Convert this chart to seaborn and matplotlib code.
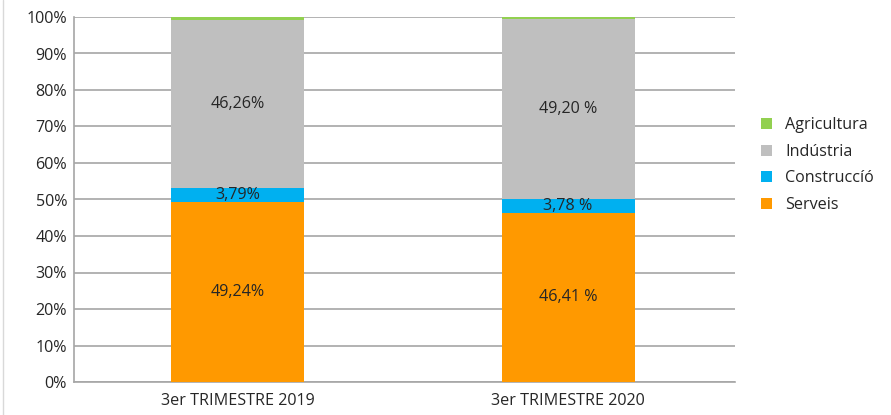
import matplotlib
matplotlib.use("Agg")
import matplotlib.pyplot as plt
import seaborn as sns
import numpy as np
import pandas as pd
from matplotlib.patches import Patch
from matplotlib.lines import Line2D

categories = ["3er TRIMESTRE 2019", "3er TRIMESTRE 2020"]
serveis = [49.24, 46.41]
construccio = [3.79, 3.78]
industria = [46.26, 49.20]
agricultura = [0.71, 0.61]
labels_serveis = ["49,24%", "46,41 %"]
labels_construccio = ["3,79%", "3,78 %"]
labels_industria = ["46,26%", "49,20 %"]
yticks = [0, 10, 20, 30, 40, 50, 60, 70, 80, 90, 100]

series = ["Serveis", "Construcció", "Indústria", "Agricultura"]
legend_labels = ["Agricultura", "Indústria", "Construccíó", "Serveis"]
colors = {"Serveis": "#FF9900", "Construcció": "#00B0F0",
          "Indústria": "#BFBFBF", "Agricultura": "#92D050"}

sns.set_theme(style="white")
plt.rcParams['font.family'] = ['Open Sans', 'DejaVu Sans']
txt = "#262626"
fs = 11.6

vals = np.array([serveis, construccio, industria, agricultura])
cum = np.cumsum(vals, axis=0)

fig = plt.figure(figsize=(8.91, 4.15), dpi=100)
ax = fig.add_axes([74/891, 1 - 382/415, (735-74)/891, (382-17)/415])

for i in range(len(series) - 1, -1, -1):
    df = pd.DataFrame({"cat": categories, "val": cum[i]})
    sns.barplot(data=df, x="cat", y="val", color=colors[series[i]],
                width=0.403, saturation=1, ax=ax, zorder=3, linewidth=0)

ax.set_ylim(0, 100)
ax.set_xlim(-0.495, 1.505)
ax.set_yticks(yticks)
ax.set_yticklabels([f"{t}%" for t in yticks], fontsize=fs, color=txt)
ax.tick_params(axis="x", labelsize=fs, labelcolor=txt, length=0, pad=8)
ax.tick_params(axis="y", length=0, pad=5)
ax.set_xlabel("")
ax.set_ylabel("")
ax.grid(axis="y", color="#A6A6A6", linewidth=1.2, zorder=0)
ax.set_axisbelow(True)
for s in ["top", "right"]:
    ax.spines[s].set_visible(False)
ax.spines["left"].set_color("#A6A6A6")
ax.spines["bottom"].set_color("#A6A6A6")
ax.spines["left"].set_linewidth(1.2)
ax.spines["bottom"].set_linewidth(1.2)

for j in range(len(categories)):
    ax.text(j, serveis[j] / 2, labels_serveis[j], ha="center", va="center",
            fontsize=fs, color=txt, zorder=5)
    ax.text(j, serveis[j] + construccio[j] / 2, labels_construccio[j], ha="center",
            va="center", fontsize=fs, color=txt, zorder=5)
    ax.text(j, cum[1][j] + industria[j] / 2, labels_industria[j], ha="center",
            va="center", fontsize=fs, color=txt, zorder=5)

handles = [Patch(facecolor=colors[s], edgecolor="none") for s in
           ["Agricultura", "Indústria", "Construcció", "Serveis"]]
fig.legend(handles, legend_labels, loc="center left",
           bbox_to_anchor=(755/891, 1 - 165/415), frameon=False, fontsize=fs,
           handlelength=0.68, handleheight=0.68, handletextpad=0.8, labelspacing=0.65,
           borderaxespad=0, labelcolor=txt)

# faint chart-area border on the left
fig.add_artist(Line2D([3/891, 3/891], [0, 1], color="#D9D9D9", linewidth=1,
                      transform=fig.transFigure))

fig.savefig("out.png", dpi=100)
